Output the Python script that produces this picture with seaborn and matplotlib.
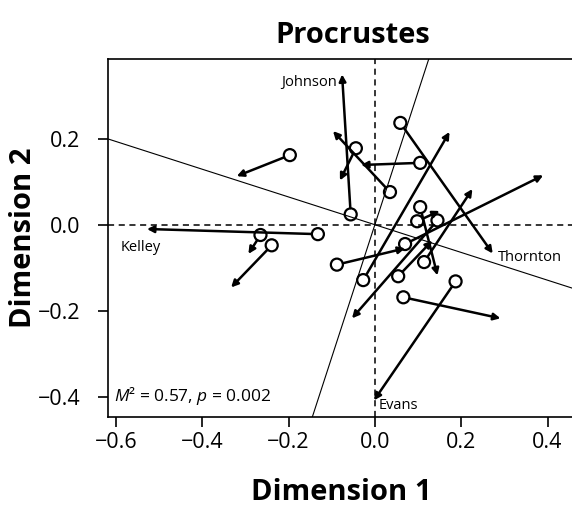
import matplotlib
matplotlib.use("Agg")
import matplotlib.pyplot as plt
import seaborn as sns
import pandas as pd

# --- DATA ---
# circles = rotated configuration, arrow tips = target configuration
names = ["", "Kelley", "", "", "Johnson", "", "", "", "Thornton", "", "",
         "", "", "Evans", "", "", "", "", ""]
x_rot = [-0.197, -0.132, -0.265, -0.239, -0.056, -0.044, 0.035, 0.105, 0.059, -0.027,
         0.145, 0.105, 0.066, 0.187, -0.088, 0.114, 0.070, 0.054, 0.098]
y_rot = [0.162, -0.022, -0.024, -0.048, 0.024, 0.178, 0.076, 0.144, 0.237, -0.129,
         0.010, 0.041, -0.169, -0.132, -0.093, -0.087, -0.045, -0.120, 0.008]
x_tgt = [-0.320, -0.528, -0.293, -0.333, -0.076, -0.081, -0.097, -0.032, 0.273, 0.173,
         -0.053, 0.145, 0.291, -0.002, 0.070, 0.226, 0.390, 0.133, 0.150]
y_tgt = [0.113, -0.010, -0.068, -0.146, 0.350, 0.103, 0.218, 0.139, -0.067, 0.216,
         -0.218, -0.118, -0.218, -0.409, -0.055, 0.083, 0.115, -0.037, 0.032]

# rotation axes (slopes of the rotated dimension lines)
rot_slopes = [-0.323, 3.09]

x_ticks = [-0.6, -0.4, -0.2, 0.0, 0.2, 0.4]
y_ticks = [-0.4, -0.2, 0.0, 0.2]

# label offsets in points, relative to arrow tip
label_offsets = {"Kelley": (-19, -13, "left"), "Johnson": (-4, -6, "right"),
                 "Thornton": (4, -3, "left"), "Evans": (3, -4, "left")}

df = pd.DataFrame({"name": names, "x": x_rot, "y": y_rot, "xt": x_tgt, "yt": y_tgt})

# --- STYLE ---
sns.set_style("ticks")
plt.rcParams["font.family"] = ["Open Sans", "DejaVu Sans"]
plt.rcParams["mathtext.fontset"] = "custom"
plt.rcParams["mathtext.it"] = "Open Sans:italic"
plt.rcParams["mathtext.rm"] = "Open Sans"
for k in ["text.color", "axes.labelcolor", "xtick.color", "ytick.color", "axes.edgecolor"]:
    plt.rcParams[k] = "black"

fig = plt.figure(figsize=(5.72, 5.26), dpi=100)
ax = fig.add_axes([0.189, 0.207, 0.815, 0.681])

# reference lines
ax.axhline(0, color="black", lw=1.1, ls=(0, (4, 3)), zorder=1)
ax.axvline(0, color="black", lw=1.1, ls=(0, (4, 3)), zorder=1)
for s in rot_slopes:
    ax.axline((0, 0), slope=s, color="black", lw=0.8, zorder=1)

# arrows
for _, r in df.iterrows():
    ax.annotate("", xy=(r.xt, r.yt), xytext=(r.x, r.y),
                arrowprops=dict(arrowstyle="-|>", color="black", lw=1.8,
                                mutation_scale=10, shrinkA=4.5, shrinkB=0),
                zorder=2)
    if r["name"]:
        dx, dy, ha = label_offsets[r["name"]]
        ax.annotate(r["name"], xy=(r.xt, r.yt), xytext=(dx, dy),
                    textcoords="offset points", ha=ha, va="center",
                    fontsize=10.5)

# circles
sns.scatterplot(data=df, x="x", y="y", ax=ax, marker="o", s=75,
                facecolor="none", edgecolor="black", linewidth=1.6, zorder=3)

ax.set_xlim(-0.618, 0.462)
ax.set_ylim(-0.448, 0.386)
ax.set_xticks(x_ticks)
ax.set_yticks(y_ticks)
ax.set_xticklabels([f"{v:.1f}".replace("-", "\u2212") for v in x_ticks])
ax.set_yticklabels([f"{v:.1f}".replace("-", "\u2212") for v in y_ticks])
ax.tick_params(length=7, width=1.2, labelsize=15.5, direction="out")
ax.tick_params(axis="x", pad=4)
ax.tick_params(axis="y", pad=13)
for sp in ax.spines.values():
    sp.set_linewidth(1.2)
    sp.set_visible(True)

ax.set_xlabel("Dimension 1", fontsize=21, fontweight="bold", labelpad=18)
ax.set_ylabel("Dimension 2", fontsize=21, fontweight="bold", labelpad=0)

ax.text(0.012, 0.045, r"$\it{M}$² = 0.57, $\it{p}$ = 0.002", transform=ax.transAxes,
        fontsize=12.5, ha="left", va="baseline")

fig.text(0.617, 0.918, "Procrustes", fontsize=21, fontweight="bold",
         ha="center", va="baseline")

fig.savefig("out.png", dpi=100)
